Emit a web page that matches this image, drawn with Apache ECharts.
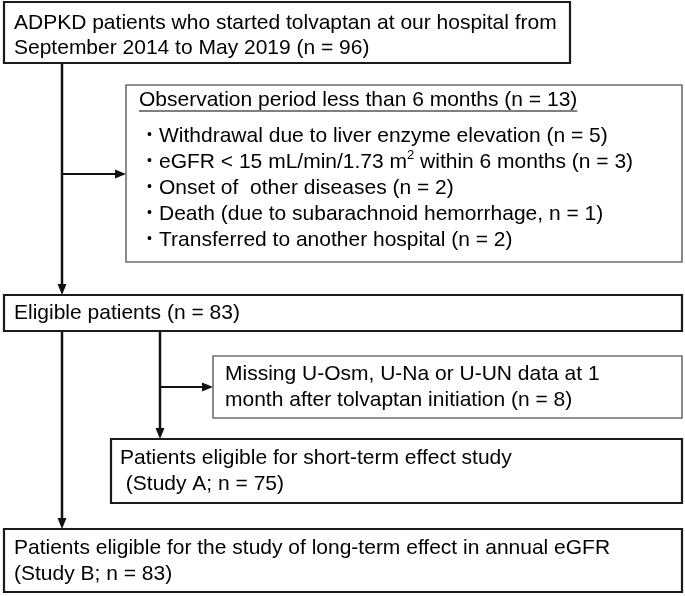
<!DOCTYPE html>
<html>
<head>
<meta charset="utf-8">
<script src="https://cdn.jsdelivr.net/npm/echarts@6/dist/echarts.min.js"></script>
<style>
  html, body { margin: 0; padding: 0; background: #fff; }
  #chart { width: 685px; height: 596px; }
</style>
</head>
<body>
<div id="chart"></div>
<script>
// Patient flow (ADPKD / tolvaptan) drawn as a custom-series flowchart.
const FONT = '"Liberation Sans", Arial, sans-serif';
const FS = 21;

// box texts
const startLines = ['ADPKD patients who started tolvaptan at our hospital from', 'September 2014 to May 2019 (n = 96)'];
const excludedHeader = 'Observation period less than 6 months (n = 13)';
const excludedReasons = [
  'Withdrawal due to liver enzyme elevation (n = 5)',
  ['eGFR < 15 mL/min/1.73 m', '2', ' within 6 months (n = 3)'],
  'Onset of  other diseases (n = 2)',
  'Death (due to subarachnoid hemorrhage, n = 1)',
  'Transferred to another hospital (n = 2)',
];
const eligibleLines = ['Eligible patients (n = 83)'];
const missingLines = ['Missing U-Osm, U-Na or U-UN data at 1', 'month after tolvaptan initiation (n = 8)'];
const studyALines = ['Patients eligible for short-term effect study', ' (Study A; n = 75)'];
const studyBLines = ['Patients eligible for the study of long-term effect in annual eGFR', '(Study B; n = 83)'];

// layout: [x0, y0, x1, y1] in page pixels
const boxRects = [
  [4, 2, 570, 63],
  [126, 85, 682, 262],
  [4, 295, 682, 331],
  [213, 356, 682, 418],
  [111, 439, 682, 503],
  [4, 529, 682, 592],
];
const boxGray = [false, true, false, true, false, false];

// connectors: [x0, y0, x1, y1]
const links = [
  [62, 63, 62, 295],
  [62, 174, 126, 174],
  [62, 331, 62, 529],
  [160, 331, 160, 439],
  [160, 387, 213, 387],
];

const ctx = document.createElement('canvas').getContext('2d');
function textWidth(s, size) {
  ctx.font = size + 'px ' + FONT;
  return ctx.measureText(s).width;
}

function txt(x, y, s, size) {
  return {
    type: 'text',
    style: { text: s, x: x, y: y, fill: '#000', font: size + 'px ' + FONT, align: 'left', verticalAlign: 'middle' }
  };
}

function plainLines(lines, x, y0, step) {
  return lines.map((s, i) => txt(x, y0 + i * step, s, FS));
}

function boxText(idx, api) {
  const p = api.coord([boxRects[idx][0], boxRects[idx][1]]);
  const x = p[0], y = p[1];
  if (idx === 0) return plainLines(startLines, x + 10, y + 21, 25);
  if (idx === 2) return plainLines(eligibleLines, x + 10, y + 18, 25);
  if (idx === 3) return plainLines(missingLines, x + 12, y + 18, 26);
  if (idx === 4) return plainLines(studyALines, x + 9, y + 19, 26);
  if (idx === 5) return plainLines(studyBLines, x + 10, y + 19, 26);
  // excluded box: underlined header + bullet list
  const out = [];
  const hx = x + 13, hy = y + 15;
  out.push(txt(hx, hy, excludedHeader, FS));
  out.push({ type: 'line', shape: { x1: hx, y1: hy + 11, x2: hx + textWidth(excludedHeader, FS), y2: hy + 11 },
             style: { stroke: '#000', lineWidth: 1.2 } });
  const bx = x + 21, tx = x + 33;
  excludedReasons.forEach((r, i) => {
    const ly = hy + 36 + i * 26;
    out.push(txt(bx, ly - 1, '•', 14));
    if (Array.isArray(r)) {
      let cx = tx;
      out.push(txt(cx, ly, r[0], FS));
      cx += textWidth(r[0], FS);
      out.push(txt(cx, ly - 7, r[1], 13));
      cx += textWidth(r[1], 13);
      out.push(txt(cx, ly, r[2], FS));
    } else {
      out.push(txt(tx, ly, r, FS));
    }
  });
  return out;
}

const chart = echarts.init(document.getElementById('chart'), null, { renderer: 'canvas' });
chart.setOption({
  animation: false,
  grid: { left: 0, right: 0, top: 0, bottom: 0 },
  xAxis: { type: 'value', min: 0, max: 685, show: false },
  yAxis: { type: 'value', min: 0, max: 596, inverse: true, show: false },
  series: [
    {
      type: 'custom',
      data: links.map((l, i) => [i]),
      renderItem: (params, api) => {
        const l = links[params.dataIndex];
        const a = api.coord([l[0], l[1]]);
        const b = api.coord([l[2], l[3]]);
        const vertical = a[0] === b[0];
        const lw = vertical ? 2.5 : 1.8;
        let head;
        if (vertical) {
          head = [[b[0] - 4.5, b[1] - 11], [b[0] + 4.5, b[1] - 11], [b[0], b[1]]];
        } else {
          head = [[b[0] - 11, b[1] - 4.5], [b[0] - 11, b[1] + 4.5], [b[0], b[1]]];
        }
        const end = vertical ? [b[0], b[1] - 9] : [b[0] - 9, b[1]];
        return {
          type: 'group',
          children: [
            { type: 'line', shape: { x1: a[0], y1: a[1], x2: end[0], y2: end[1] }, style: { stroke: '#111', lineWidth: lw } },
            { type: 'polygon', shape: { points: head }, style: { fill: '#111' } }
          ]
        };
      }
    },
    {
      type: 'custom',
      data: boxRects.map((r, i) => [i]),
      renderItem: (params, api) => {
        const i = params.dataIndex;
        const r = boxRects[i];
        const p0 = api.coord([r[0], r[1]]);
        const p1 = api.coord([r[2], r[3]]);
        const gray = boxGray[i];
        return {
          type: 'group',
          children: [
            { type: 'rect', shape: { x: p0[0], y: p0[1], width: p1[0] - p0[0], height: p1[1] - p0[1] },
              style: { fill: '#fff', stroke: gray ? '#6e6e6e' : '#1a1a1a', lineWidth: gray ? 1.6 : 2.2 } }
          ].concat(boxText(i, api))
        };
      }
    }
  ]
});
</script>
</body>
</html>
